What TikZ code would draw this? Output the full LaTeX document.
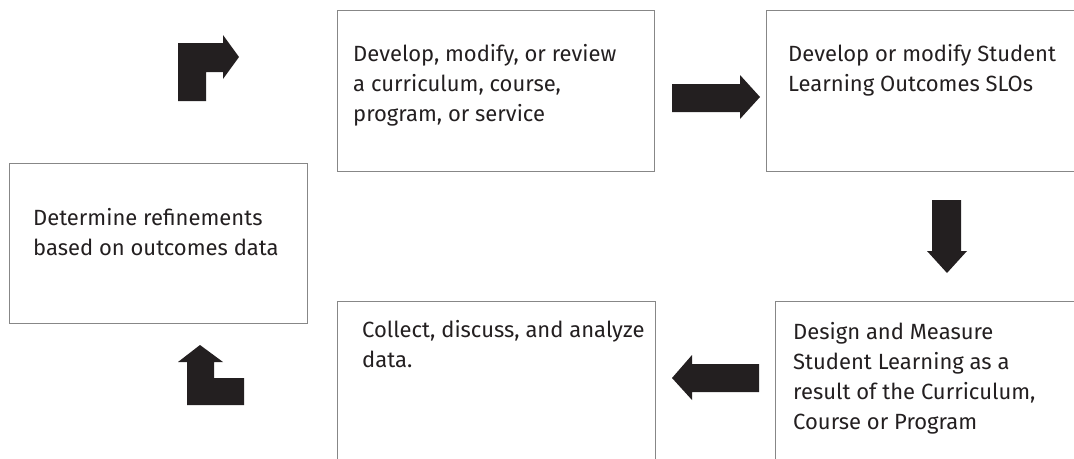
\documentclass[tikz,border=0pt]{standalone}
\usepackage{fontspec}
\setmainfont{Fira Sans}
\definecolor{ink}{RGB}{35,31,32}
\definecolor{edge}{RGB}{135,135,135}
\begin{document}
\begin{tikzpicture}[x=1pt,y=-1pt,
  box/.style={draw=edge, line width=1.1pt, inner sep=0pt, anchor=north west},
  txt/.style={anchor=base west, inner sep=0pt, align=left, text=ink, font=\fontsize{22}{30}\selectfont},
  blk/.style={fill=ink}]
\useasboundingbox (0,0) rectangle (1074,458);
\clip (0,0) rectangle (1074,458);
% boxes
\node[box, minimum width=298pt, minimum height=160pt] (refine) at (9,163) {};
\node[box, minimum width=317pt, minimum height=161pt] (develop) at (337,10) {};
\node[box, minimum width=330pt, minimum height=161pt] (slo) at (766,10) {};
\node[box, minimum width=318pt, minimum height=200pt] (collect) at (337,301) {};
\node[box, minimum width=320pt, minimum height=200pt] (design) at (775,301) {};
% texts (anchored at the baseline of the last line)
\node[txt] (trefine) at (33,255) {Determine refinements\\based on outcomes data};
\node[txt] (tdevelop) at (353,121) {Develop, modify, or review\\a curriculum, course,\\program, or service};
\node[txt] (tslo) at (788,91) {Develop or modify Student\\Learning Outcomes SLOs};
\node[txt] (tcollect) at (362,367) {Collect, discuss, and analyze\\data.};
\node[txt] (tdesign) at (793,429) {Design and Measure\\Student Learning as a\\result of the Curriculum,\\Course or Program};
% block arrows
\fill[blk] (178,101) -- (178,43) -- (223,43) -- (223,35) -- (239,57) -- (223,79) -- (223,72) -- (206,72) -- (206,101) -- cycle;
\fill[blk] (672,84) -- (740,84) -- (740,75) -- (760,97) -- (740,119) -- (740,112) -- (672,112) -- cycle;
\fill[blk] (932,200) -- (961,200) -- (961,251) -- (967,251) -- (947,273) -- (927,251) -- (932,251) -- cycle;
\fill[blk] (759,364) -- (759,392) -- (692,392) -- (692,400) -- (672,378) -- (692,355) -- (692,364) -- cycle;
\fill[blk] (200,345) -- (223,362) -- (214,362) -- (214,378) -- (244,378) -- (244,405) -- (187,405) -- (187,362) -- (178,362) -- cycle;
\end{tikzpicture}
\end{document}
